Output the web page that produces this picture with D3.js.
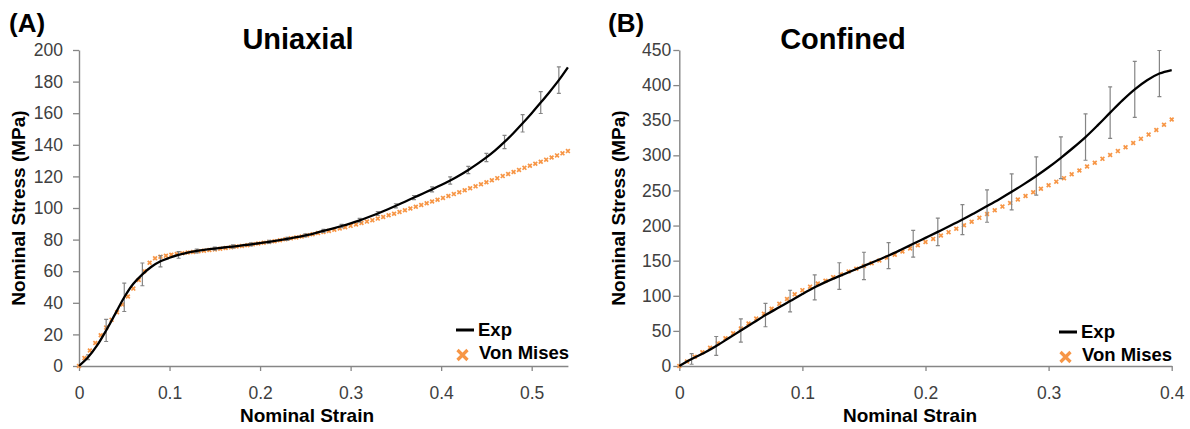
<!DOCTYPE html>
<html>
<head>
<meta charset="utf-8">
<script src="https://cdn.jsdelivr.net/npm/d3@7"></script>
<style>
  body { margin: 0; background: #fff; }
  svg text { font-family: Arial, "Liberation Sans", sans-serif; }
</style>
</head>
<body>
<svg id="chart" width="1190" height="429"></svg>
<script>
// ---------- (A) Uniaxial ----------
// Experimental mean stress (MPa), every 0.01 nominal strain
const uniExpStrain = [0,0.01,0.02,0.03,0.04,0.05,0.06,0.07,0.08,0.09,0.1,0.11,0.12,0.13,0.14,0.15,0.16,0.17,0.18,0.19,0.2,0.21,0.22,0.23,0.24,0.25,0.26,0.27,0.28,0.29,0.3,0.31,0.32,0.33,0.34,0.35,0.36,0.37,0.38,0.39,0.4,0.41,0.42,0.43,0.44,0.45,0.46,0.47,0.48,0.49,0.5,0.51,0.52,0.53,0.54];
const uniExp = [0,5.5,13,22.5,33,43.5,52,58,62.8,66.3,68.5,70.3,71.8,72.8,73.6,74.3,75,75.6,76.3,77,77.8,78.6,79.5,80.5,81.5,82.7,84,85.5,87,88.6,90.3,92.2,94.3,96.5,98.9,101.4,104,106.6,109.2,111.8,114.5,117.4,120.6,124.1,127.9,132,136.6,141.8,147.5,153.6,160,166.7,173.6,180.9,189];
// Standard deviation of the experiment (MPa)
const uniErrStrain = [0.01,0.03,0.05,0.07,0.09,0.11,0.13,0.15,0.17,0.19,0.21,0.23,0.25,0.27,0.29,0.31,0.33,0.35,0.37,0.39,0.41,0.43,0.45,0.47,0.49,0.51,0.53];
const uniErr = [1.5,7,9,7.2,3.5,2.1,1.2,1,1,1,1,1,1,1,1,1.2,1.2,1.3,1.3,1.6,2.3,2.3,2.6,4.2,5.5,6.9,8.4];
// Von Mises model prediction (MPa)
const uniVmStrain = [0,0.006,0.012,0.018,0.024,0.03,0.036,0.042,0.048,0.054,0.06,0.066,0.072,0.078,0.084,0.09,0.096,0.102,0.108,0.114,0.12,0.126,0.132,0.138,0.144,0.15,0.156,0.162,0.168,0.174,0.18,0.186,0.192,0.198,0.204,0.21,0.216,0.222,0.228,0.234,0.24,0.246,0.252,0.258,0.264,0.27,0.276,0.282,0.288,0.294,0.3,0.306,0.312,0.318,0.324,0.33,0.336,0.342,0.348,0.354,0.36,0.366,0.372,0.378,0.384,0.39,0.396,0.402,0.408,0.414,0.42,0.426,0.432,0.438,0.444,0.45,0.456,0.462,0.468,0.474,0.48,0.486,0.492,0.498,0.504,0.51,0.516,0.522,0.528,0.534,0.54];
const uniVm = [0,5,9.8,14.6,19.5,24.3,29.2,34,39,44,49,54.5,60,65.3,68.2,69.2,
  69.8,70.4,70.9,71.4,71.8,72.2,72.6,73.0,73.4,73.8,74.2,74.7,75.1,75.6,
  76.0,76.5,77.0,77.5,78.0,78.5,79.0,79.6,80.2,80.8,81.4,82.0,82.7,83.4,84.1,84.8,85.5,86.2,87.0,
  87.8,88.7,89.6,90.5,91.4,92.3,93.3,94.3,95.4,96.4,97.5,98.6,99.7,100.8,101.9,103,104.1,105.2,106.4,107.6,108.8,110,111.2,112.5,113.7,115,116.3,117.6,118.9,120.2,121.5,122.8,124.1,125.4,126.7,128,129.3,130.6,132,133.3,134.6,136];
const uniXTicks = [0,0.1,0.2,0.3,0.4,0.5];
const uniYTicks = [0,20,40,60,80,100,120,140,160,180,200];

// ---------- (B) Confined ----------
const conExpStrain = [0,0.01,0.02,0.03,0.04,0.05,0.06,0.07,0.08,0.09,0.1,0.11,0.12,0.13,0.14,0.15,0.16,0.17,0.18,0.19,0.2,0.21,0.22,0.23,0.24,0.25,0.26,0.27,0.28,0.29,0.3,0.31,0.32,0.33,0.34,0.35,0.36,0.37,0.38,0.39,0.4];
const conExp = [0,10,18.5,28.5,39.5,50.5,61.5,72.5,82.5,92.5,102.5,112,120.5,128,135.3,142.5,149.8,157.3,165.5,174,182.5,191,199.6,208.5,218,227.7,237.6,248,259,270.6,283,296.5,310.8,326,343,360.8,378.3,394,407,416.5,421.5];
const conErrStrain = [0.01,0.03,0.05,0.07,0.09,0.11,0.13,0.15,0.17,0.19,0.21,0.23,0.25,0.27,0.29,0.31,0.33,0.35,0.37,0.39];
const conErr = [7.5,13.5,16.6,16.6,15.4,17.8,19,19.5,18.5,19,19.7,21.4,23,25.6,27.3,29.7,33,36.6,39.9,32.8];
const conVmStrain = [0,0.00625,0.0125,0.01875,0.025,0.03125,0.0375,0.04375,0.05,0.05625,0.0625,0.06875,0.075,0.08125,0.0875,0.09375,0.1,0.10625,0.1125,0.11875,0.125,0.13125,0.1375,0.14375,0.15,0.15625,0.1625,0.16875,0.175,0.18125,0.1875,0.19375,0.2,0.20625,0.2125,0.21875,0.225,0.23125,0.2375,0.24375,0.25,0.25625,0.2625,0.26875,0.275,0.28125,0.2875,0.29375,0.3,0.30625,0.3125,0.31875,0.325,0.33125,0.3375,0.34375,0.35,0.35625,0.3625,0.36875,0.375,0.38125,0.3875,0.39375,0.4];
const conVm = [0,6.5,13,19.5,26,32.5,39.5,46.5,53.5,60.5,67.5,74.5,81.5,88.5,95.5,102,108,113,117.5,121.5,
  126.5,130.5,134.5,138.5,142.5,146.3,150.2,154.2,158.5,163,167.5,172,176.5,181,185.8,190.6,195.5,200.5,205.5,211,
  216.5,221.8,227,232,237,242,247.5,252.5,257.5,262.5,267.5,273,278.5,284,289.5,295,300.5,306,311.5,317.5,323.5,329.5,336,343.5,351];
const conXTicks = [0,0.1,0.2,0.3,0.4];
const conYTicks = [0,50,100,150,200,250,300,350,400,450];

// ---------- styling ----------
const ORANGE = "#F79646";
const AXIS = "#868686";
const ERRBAR = "#858585";
const LABEL = "#404040";

const svg = d3.select("#chart");

const panels = [
  {
    tag: "(A)", tagX: 9, title: "Uniaxial", titleX: 298,
    xMax: 0.54, yMax: 200, left: 79, right: 567.9, top: 50, bottom: 366,
    xTicks: uniXTicks, yTicks: uniYTicks, yPad: 10,
    yTitleX: 25, xTitleX: 307,
    exp: uniExpStrain.map((s, i) => ({ s, v: uniExp[i] })),
    err: uniErrStrain.map((s, i) => ({ s, e: uniErr[i], v: uniExp[uniExpStrain.findIndex(t => Math.abs(t - s) < 1e-9)] })),
    vm: uniVmStrain.map((s, i) => ({ s, v: uniVm[i] })),
    legendX: 456, legendY: 330
  },
  {
    tag: "(B)", tagX: 608, title: "Confined", titleX: 843,
    xMax: 0.4, yMax: 450, left: 679.3, right: 1171.7, top: 50, bottom: 366,
    xTicks: conXTicks, yTicks: conYTicks, yPad: 2,
    yTitleX: 625, xTitleX: 910,
    exp: conExpStrain.map((s, i) => ({ s, v: conExp[i] })),
    err: conErrStrain.map((s, i) => ({ s, e: conErr[i], v: conExp[conExpStrain.findIndex(t => Math.abs(t - s) < 1e-9)] })),
    vm: conVmStrain.map((s, i) => ({ s, v: conVm[i] })),
    legendX: 1059, legendY: 332
  }
];

panels.forEach(p => {
  const x = d3.scaleLinear().domain([0, p.xMax]).range([p.left, p.right]);
  const y = d3.scaleLinear().domain([0, p.yMax]).range([p.bottom, p.top]);
  const g = svg.append("g");

  // panel tag and title
  g.append("text").attr("x", p.tagX).attr("y", 32)
    .attr("font-size", 26).attr("font-weight", "bold").attr("fill", "#000").text(p.tag);
  g.append("text").attr("x", p.titleX).attr("y", 49).attr("text-anchor", "middle")
    .attr("font-size", 29).attr("font-weight", "bold").attr("fill", "#000").text(p.title);

  // axes
  const yAxis = g.append("g").attr("transform", `translate(${p.left},0)`)
    .call(d3.axisLeft(y).tickValues(p.yTicks).tickSize(6).tickSizeOuter(0).tickPadding(p.yPad));
  const xAxis = g.append("g").attr("transform", `translate(0,${p.bottom})`)
    .call(d3.axisBottom(x).tickValues(p.xTicks).tickSize(5).tickSizeOuter(0).tickPadding(16)
      .tickFormat(d => d === 0 ? "0" : d3.format(".1f")(d)));
  [yAxis, xAxis].forEach(a => {
    a.select(".domain").attr("stroke", AXIS).attr("stroke-width", 1.4);
    a.selectAll(".tick line").attr("stroke", AXIS).attr("stroke-width", 1.3);
    a.selectAll(".tick text").attr("fill", LABEL).attr("font-size", 17.5)
      .attr("font-family", "Arial, 'Liberation Sans', sans-serif");
  });

  // axis titles
  g.append("text")
    .attr("transform", `translate(${p.yTitleX},${(p.top + p.bottom) / 2}) rotate(-90)`)
    .attr("text-anchor", "middle").attr("font-size", 19).attr("font-weight", "bold")
    .attr("fill", "#000").text("Nominal Stress (MPa)");
  g.append("text").attr("x", p.xTitleX).attr("y", 422).attr("text-anchor", "middle")
    .attr("font-size", 19).attr("font-weight", "bold").attr("fill", "#000").text("Nominal Strain");

  // Von Mises markers
  const r = 1.9;
  g.append("g").selectAll("path").data(p.vm).join("path")
    .attr("transform", d => `translate(${x(d.s)},${y(d.v)})`)
    .attr("d", `M${-r},${-r}L${r},${r}M${-r},${r}L${r},${-r}`)
    .attr("stroke", ORANGE).attr("stroke-width", 1.7).attr("fill", "none");

  // experimental error bars
  const eb = g.append("g").attr("stroke", ERRBAR).attr("stroke-width", 1.2).attr("fill", "none");
  eb.selectAll("path").data(p.err).join("path")
    .attr("d", d => {
      const cx = x(d.s), y1 = y(d.v + d.e), y2 = y(d.v - d.e);
      return `M${cx},${y1}V${y2}M${cx - 2},${y1}H${cx + 2}M${cx - 2},${y2}H${cx + 2}`;
    });

  // experimental mean curve
  g.append("path").datum(p.exp)
    .attr("d", d3.line().x(d => x(d.s)).y(d => y(d.v)).curve(d3.curveCatmullRom.alpha(0.5)))
    .attr("fill", "none").attr("stroke", "#000").attr("stroke-width", 2.3);

  // legend
  const lg = g.append("g").attr("transform", `translate(${p.legendX},${p.legendY})`);
  lg.append("line").attr("x1", 0).attr("x2", 18).attr("y1", 0).attr("y2", 0)
    .attr("stroke", "#000").attr("stroke-width", 3);
  lg.append("text").attr("x", 22).attr("y", 6).attr("font-size", 18.5).attr("font-weight", "bold")
    .attr("fill", "#000").text("Exp");
  const R = 5;
  lg.append("path").attr("transform", `translate(${6.5},${25})`)
    .attr("d", `M${-R},${-R}L${R},${R}M${-R},${R}L${R},${-R}`)
    .attr("stroke", ORANGE).attr("stroke-width", 3.2).attr("fill", "none");
  lg.append("text").attr("x", 23).attr("y", 29).attr("font-size", 18.5).attr("font-weight", "bold")
    .attr("fill", "#000").text("Von Mises");
});
</script>
</body>
</html>
